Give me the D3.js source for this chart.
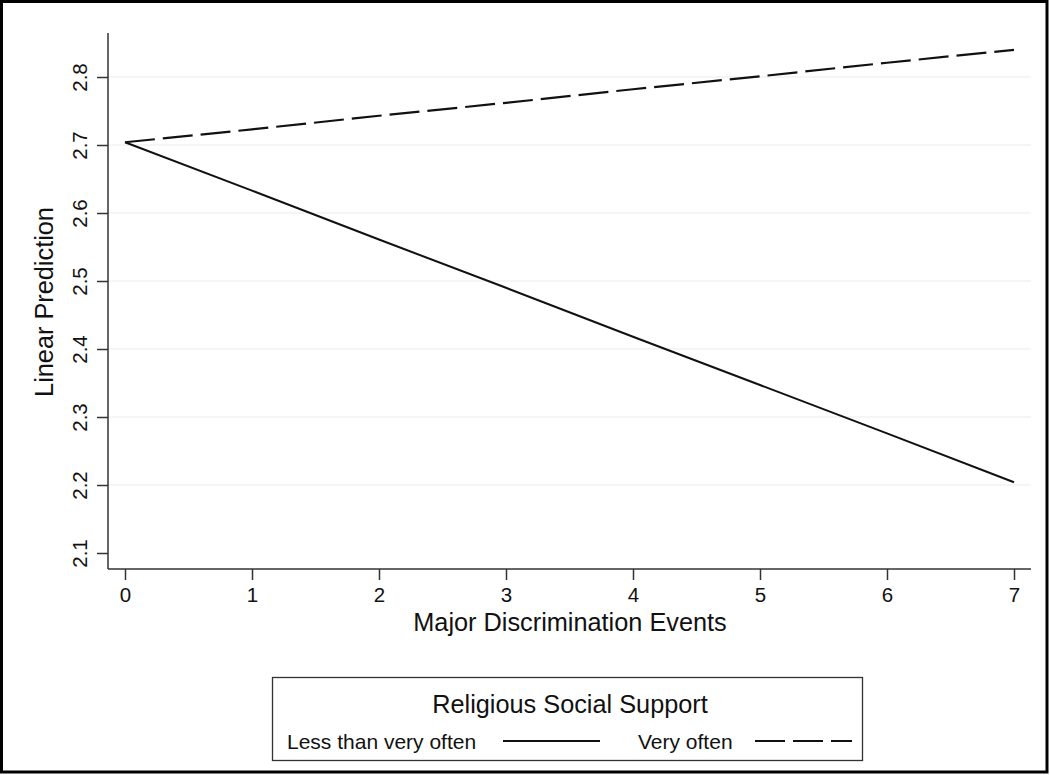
<!DOCTYPE html>
<html><head><meta charset="utf-8">
<script src="https://cdn.jsdelivr.net/npm/d3@7"></script>
<style>body{margin:0;background:#fff;}svg{display:block;font-family:"Liberation Sans",Arial,sans-serif;}</style>
</head><body>
<script>
const xValues = [0,1,2,3,4,5,6,7];
const lessThanVeryOften = [2.704,2.633,2.561,2.490,2.418,2.347,2.276,2.204];
const veryOften = [2.704,2.723,2.743,2.762,2.782,2.801,2.821,2.840];
const yTicks = [2.1,2.2,2.3,2.4,2.5,2.6,2.7,2.8];
const xTicks = [0,1,2,3,4,5,6,7];
const seriesNames = ["Less than very often","Very often"];
const legendTitle = "Religious Social Support";
const xLabel = "Major Discrimination Events";
const yLabel = "Linear Prediction";

const W=1050,H=775;
const svg=d3.select("body").append("svg").attr("width",W).attr("height",H);
svg.append("rect").attr("x",0).attr("y",0).attr("width",W).attr("height",H).attr("fill","#fff");
svg.append("rect").attr("x",1.5).attr("y",1.5).attr("width",1045.5).attr("height",770.5)
  .attr("fill","none").attr("stroke","#000").attr("stroke-width",3);

const x=d3.scaleLinear().domain([0,7]).range([125,1014]);
const y=d3.scaleLinear().domain([2.1,2.8]).range([553,77]);
const axL=108, axR=1031, axT=33, axB=569;

svg.append("g").selectAll("line").data(yTicks.filter(d=>d>2.15)).join("line")
  .attr("x1",axL).attr("x2",axR).attr("y1",d=>y(d)).attr("y2",d=>y(d))
  .attr("stroke","#ececec").attr("stroke-width",1.2);

const yAxis=svg.append("g").attr("transform",`translate(${axL},0)`)
  .call(d3.axisLeft(y).tickValues(yTicks).tickFormat(d3.format(".1f")).tickSize(11).tickPadding(6));
yAxis.select(".domain").remove();
yAxis.selectAll(".tick line").attr("stroke","#333").attr("stroke-width",1.5);
yAxis.selectAll(".tick text").attr("font-size",20.5).attr("fill","#111")
  .attr("text-anchor","middle").attr("transform","rotate(-90)").attr("x",0).attr("y",-28).attr("dy","0.35em");
svg.append("line").attr("x1",axL).attr("x2",axL).attr("y1",axT).attr("y2",axB).attr("stroke","#333").attr("stroke-width",1.5);

const xAxis=svg.append("g").attr("transform",`translate(0,${axB})`)
  .call(d3.axisBottom(x).tickValues(xTicks).tickFormat(d3.format("d")).tickSize(11).tickPadding(7));
xAxis.select(".domain").remove();
xAxis.selectAll(".tick line").attr("stroke","#333").attr("stroke-width",1.5);
xAxis.selectAll(".tick text").attr("font-size",20.5).attr("fill","#111");
svg.append("line").attr("x1",axL).attr("x2",axR).attr("y1",axB).attr("y2",axB).attr("stroke","#333").attr("stroke-width",1.5);

svg.append("text").attr("x",570).attr("y",631).attr("text-anchor","middle").attr("font-size",25.3).attr("fill","#111").text(xLabel);
svg.append("text").attr("transform","translate(53,302) rotate(-90)").attr("text-anchor","middle").attr("font-size",25.3).attr("fill","#111").text(yLabel);

const line=d3.line().x((d,i)=>x(xValues[i])).y(d=>y(d));
svg.append("path").datum(lessThanVeryOften).attr("d",line).attr("fill","none").attr("stroke","#111").attr("stroke-width",2);
svg.append("path").datum(veryOften).attr("d",line).attr("fill","none").attr("stroke","#111").attr("stroke-width",2.2).attr("stroke-dasharray","30,8");

svg.append("rect").attr("x",272.5).attr("y",677.5).attr("width",590).attr("height",83)
  .attr("fill","#fff").attr("stroke","#333").attr("stroke-width",1.3);
svg.append("text").attr("x",570).attr("y",713).attr("text-anchor","middle").attr("font-size",25.3).attr("fill","#111").text(legendTitle);
svg.append("text").attr("x",287).attr("y",749).attr("font-size",21).attr("fill","#111").text(seriesNames[0]);
svg.append("line").attr("x1",503).attr("x2",600).attr("y1",741).attr("y2",741).attr("stroke","#111").attr("stroke-width",2);
svg.append("text").attr("x",638).attr("y",749).attr("font-size",21).attr("fill","#111").text(seriesNames[1]);
svg.append("line").attr("x1",755).attr("x2",852).attr("y1",741).attr("y2",741).attr("stroke","#111").attr("stroke-width",2).attr("stroke-dasharray","30,8");
</script>
</body></html>
